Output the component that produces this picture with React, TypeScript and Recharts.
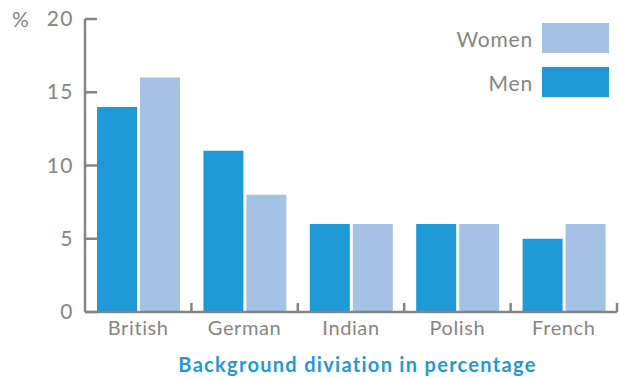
import React from 'react';
import { BarChart, Bar, XAxis, YAxis } from 'recharts';

const categories = ['British', 'German', 'Indian', 'Polish', 'French'];
const menValues = [14, 11, 6, 6, 5];
const womenValues = [16, 8, 6, 6, 6];
const yTicks = [0, 5, 10, 15, 20];
const legendItems = [
  { label: 'Women', color: '#a3c2e4' },
  { label: 'Men', color: '#1e9ad6' },
];

const data = categories.map((name, i) => ({
  name,
  Men: menValues[i],
  Women: womenValues[i],
}));

const DARK = '#1e9ad6';
const LIGHT = '#a3c2e4';
const GREY = '#858585';
const FONT = 'Lato, "Open Sans", sans-serif';

const W = 619;
const H = 378;
const PLOT_LEFT = 85;
const PLOT_RIGHT = 617;
const BAND = (PLOT_RIGHT - PLOT_LEFT) / categories.length;

function YTick(props: any) {
  const { y, payload } = props;
  return (
    <g>
      <line x1={PLOT_LEFT} x2={PLOT_LEFT + 12} y1={y} y2={y} stroke={GREY} strokeWidth={2.5} />
      <text x={PLOT_LEFT - 11} y={y} dy={7} textAnchor="end" fill={GREY} fontSize={21} letterSpacing={1.5} fontFamily={FONT}>
        {payload.value}
      </text>
    </g>
  );
}

function XTick(props: any) {
  const { x, y, payload } = props;
  const edge = x + BAND / 2;
  const axisY = y - 8;
  return (
    <g>
      <line x1={edge} x2={edge} y1={axisY} y2={axisY - 9} stroke={GREY} strokeWidth={2.5} />
      <text x={x} y={axisY + 23} textAnchor="middle" fill={GREY} fontSize={20} letterSpacing={0.6} fontFamily={FONT}>
        {payload.value}
      </text>
    </g>
  );
}

function LegendBox() {
  return (
    <div style={{ position: 'absolute', top: 23, right: 10 }}>
      {legendItems.map((it) => (
        <div key={it.label} style={{ display: 'flex', alignItems: 'center', justifyContent: 'flex-end', height: 30, marginBottom: 14 }}>
          <span style={{ color: GREY, fontSize: 21, letterSpacing: 0.8, fontFamily: FONT, marginRight: 9 }}>{it.label}</span>
          <span style={{ display: 'inline-block', width: 67, height: 30, background: it.color }} />
        </div>
      ))}
    </div>
  );
}

export default function App() {
  return (
    <div style={{ position: 'absolute', left: 0, top: 0, width: W, height: H, background: '#fff' }}>
      <BarChart
        width={W}
        height={H}
        data={data}
        margin={{ top: 19, right: W - PLOT_RIGHT, bottom: 36, left: 0 }}
        barCategoryGap={12}
        barGap={3}
      >
        <YAxis
          width={PLOT_LEFT}
          domain={[0, 20]}
          ticks={yTicks}
          interval={0}
          axisLine={{ stroke: GREY, strokeWidth: 2.5 }}
          tickLine={false}
          tick={<YTick />}
        />
        <XAxis
          dataKey="name"
          height={30}
          interval={0}
          axisLine={{ stroke: GREY, strokeWidth: 2.5 }}
          tickLine={false}
          tick={<XTick />}
        />
        <Bar dataKey="Men" fill={DARK} isAnimationActive={false} />
        <Bar dataKey="Women" fill={LIGHT} isAnimationActive={false} />
      </BarChart>
      <div style={{ position: 'absolute', left: 12, top: 6, color: GREY, fontSize: 21, fontFamily: FONT }}>%</div>
      <LegendBox />
      <div
        style={{
          position: 'absolute',
          left: 0,
          width: 715,
          top: 352,
          textAlign: 'center',
          color: DARK,
          fontSize: 20,
          letterSpacing: 1.3,
          fontWeight: 700,
          fontFamily: FONT,
        }}
      >
        Background diviation in percentage
      </div>
    </div>
  );
}
